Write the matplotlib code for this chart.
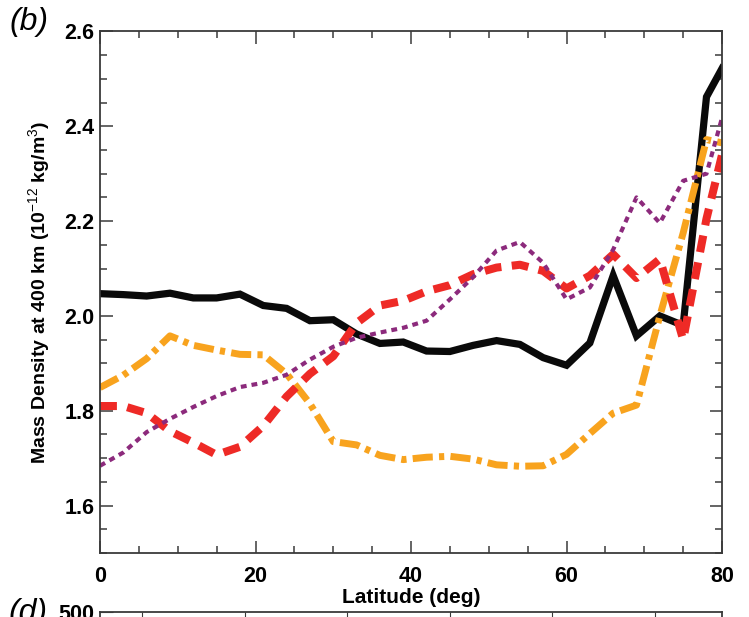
import matplotlib
matplotlib.use("Agg")
import matplotlib.pyplot as plt
from matplotlib.ticker import MultipleLocator

plt.rcParams['font.family'] = ['Liberation Sans', 'DejaVu Sans']
plt.rcParams['mathtext.fontset'] = 'custom'
plt.rcParams['mathtext.rm'] = 'Liberation Sans'
plt.rcParams['mathtext.bf'] = 'Liberation Sans:bold'

# latitude grid (deg)
lat = [0, 3, 6, 9, 12, 15, 18, 21, 24, 27, 30, 33, 36, 39, 42, 45, 48,
       51, 54, 57, 60, 63, 66, 69, 72, 75, 78, 80]

# mass density at 400 km (1e-12 kg/m^3)
black_solid = [2.047, 2.045, 2.042, 2.048, 2.038, 2.038, 2.046, 2.022, 2.016,
               1.990, 1.992, 1.962, 1.942, 1.945, 1.926, 1.925, 1.938, 1.948,
               1.940, 1.912, 1.896, 1.943, 2.085, 1.958, 2.000, 1.980, 2.462,
               2.522]
red_dash = [1.810, 1.810, 1.795, 1.757, 1.733, 1.707, 1.724, 1.768, 1.830,
            1.878, 1.915, 1.985, 2.022, 2.032, 2.052, 2.065, 2.088, 2.102,
            2.108, 2.095, 2.058, 2.085, 2.130, 2.080, 2.120, 1.950, 2.205,
            2.340]
orange_dashdot = [1.849, 1.875, 1.910, 1.958, 1.938, 1.928, 1.919, 1.918,
                  1.878, 1.815, 1.735, 1.728, 1.706, 1.697, 1.702, 1.704,
                  1.698, 1.686, 1.683, 1.684, 1.708, 1.752, 1.795, 1.812,
                  2.000, 2.175, 2.372, 2.365]
purple_dot = [1.684, 1.712, 1.755, 1.783, 1.808, 1.831, 1.850, 1.859, 1.876,
              1.908, 1.935, 1.954, 1.965, 1.975, 1.990, 2.035, 2.082, 2.138,
              2.156, 2.112, 2.035, 2.060, 2.140, 2.250, 2.196, 2.285, 2.300,
              2.418]

xticks = [0, 20, 40, 60, 80]
yticks = [1.6, 1.8, 2.0, 2.2, 2.4, 2.6]

# ticks of the (cut off) panel below, in axes fraction
d_ticks = [0.067, 0.233, 0.397, 0.562, 0.727, 0.892]

spine_col = '#3a3a3a'

fig = plt.figure(figsize=(7.49, 6.17), dpi=100)
ax = fig.add_axes([0.1335, 0.1037, 0.8305, 0.8453])

ax.plot(lat, black_solid, color='#0a0a0a', lw=5.2, solid_joinstyle='miter')
l_or, = ax.plot(lat, orange_dashdot, color='#f8a31e', lw=5.0)
l_or.set_dashes([2.9, 0.9, 0.75, 0.9])
l_red, = ax.plot(lat, red_dash, color='#ee2a26', lw=5.8)
l_red.set_dashes([2.1, 1.3])
l_pu, = ax.plot(lat, purple_dot, color='#8c2a7c', lw=3.0)
l_pu.set_dashes([1.4, 1.2])

ax.set_xlim(0, 80)
ax.set_ylim(1.5, 2.6)
ax.set_xticks(xticks)
ax.set_yticks(yticks)
ax.xaxis.set_minor_locator(MultipleLocator(5))
ax.yaxis.set_minor_locator(MultipleLocator(0.05))
ax.set_xticklabels([str(v) for v in xticks], fontweight='bold', fontsize=15.5)
ax.set_yticklabels(['%.1f' % v for v in yticks], fontweight='bold', fontsize=15.5)
ax.tick_params(axis='x', which='both', direction='in', top=True, pad=9,
               color=spine_col)
ax.tick_params(axis='y', which='both', direction='in', right=True, pad=4,
               color=spine_col)
ax.tick_params(which='major', length=9, width=1.1)
ax.tick_params(which='minor', length=5, width=1.1)
for s in ax.spines.values():
    s.set_color(spine_col)
    s.set_linewidth(1.3)

ax.set_xlabel('Latitude (deg)', fontsize=15, fontweight='bold', labelpad=1)
ax.set_ylabel(r'Mass Density at 400 km (10$^{-12}$ kg/m$^3$)', fontsize=14,
              fontweight='bold', labelpad=8)

fig.text(0.013, 0.988, '(b)', fontsize=23, style='italic', va='top')

# top of the next panel, cut off by the figure edge
ax2 = fig.add_axes([0.1335, -0.5, 0.8305, 0.5077])
ax2.set_xlim(0, 1)
ax2.set_ylim(0, 500)
ax2.set_xticks(d_ticks)
ax2.set_yticks([500])
ax2.set_yticklabels(['500'], fontweight='bold', fontsize=15.5)
ax2.tick_params(axis='x', direction='in', top=True, bottom=False,
                labelbottom=False, length=7, color=spine_col)
ax2.tick_params(axis='y', direction='in', length=9, pad=4, color=spine_col)
for s in ax2.spines.values():
    s.set_color(spine_col)
    s.set_linewidth(1.3)
fig.text(0.012, 0.03, '(d)', fontsize=23, style='italic', va='top')

fig.savefig('out.png', dpi=100)
